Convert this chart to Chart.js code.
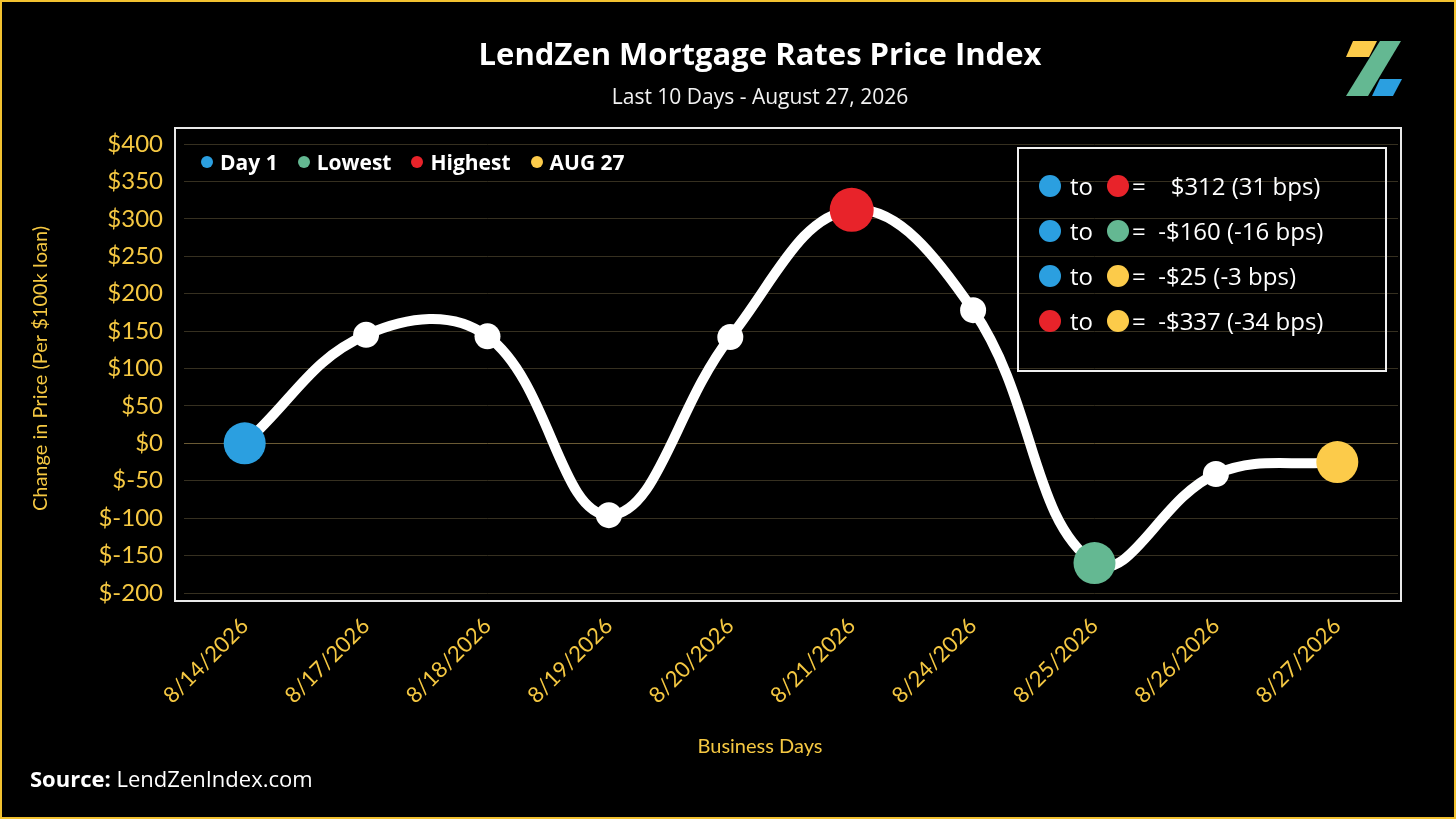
<!DOCTYPE html>
<html lang="en">
<head>
<meta charset="utf-8">
<title>LendZen Mortgage Rates Price Index</title>
<script src="https://cdn.jsdelivr.net/npm/chart.js@4.4.1/dist/chart.umd.min.js"></script>
<style>
    html, body {
        margin: 0;
        padding: 0;
        background: #000;
    }
    body {
        position: relative;
        width: 1456px;
        height: 819px;
        overflow: hidden;
        font-family: 'Open Sans', 'Lato', sans-serif;
        color: #fff;
    }
    #chartWrap {
        position: absolute;
        left: 0;
        top: 0;
        width: 1456px;
        height: 819px;
    }
    .frame {
        position: absolute;
        inset: 0;
        border: 2px solid #f2c230;
        pointer-events: none;
    }
    .title {
        position: absolute;
        left: 260px;
        width: 1000px;
        top: 32px;
        text-align: center;
        font-weight: 700;
        font-size: 31px;
    }
    .subtitle {
        position: absolute;
        left: 260px;
        width: 1000px;
        top: 82px;
        text-align: center;
        font-size: 21px;
        color: #f2f2f2;
    }
    .legend {
        position: absolute;
        left: 201px;
        top: 148px;
        display: flex;
        align-items: center;
        font-weight: 700;
        font-size: 21px;
    }
    .legend .item {
        display: flex;
        align-items: center;
        margin-right: 20px;
    }
    .legend .dot {
        width: 12px;
        height: 12px;
        border-radius: 50%;
        margin-right: 7px;
    }
    .diff-box {
        position: absolute;
        left: 1017px;
        top: 147px;
        width: 366px;
        height: 207px;
        border: 2px solid #f0f0f0;
        padding-top: 14px;
        box-sizing: content-box;
        font-size: 24px;
    }
    .diff-row {
        display: flex;
        align-items: center;
        height: 45px;
        padding-left: 20px;
        white-space: pre;
    }
    .diff-row .dot {
        width: 22px;
        height: 22px;
        border-radius: 50%;
    }
    .diff-row .to {
        margin: 0 14px 0 9px;
    }
    .diff-row .eq {
        margin-left: 3px;
    }
    .x-title {
        position: absolute;
        left: 560px;
        width: 400px;
        top: 733px;
        text-align: center;
        font-family: 'Lato', sans-serif;
        font-size: 20px;
        color: #f5c842;
    }
    .source {
        position: absolute;
        left: 30px;
        top: 763px;
        font-size: 22px;
    }
    .source b {
        font-weight: 700;
    }
    .logo {
        position: absolute;
        left: 0;
        top: 0;
    }
</style>
</head>
<body>
<div id="chartWrap"><canvas id="priceChart"></canvas></div>

<div class="title">LendZen Mortgage Rates Price Index</div>
<div class="subtitle">Last 10 Days - August 27, 2026</div>

<div class="legend" id="legend"></div>
<div class="diff-box" id="diffBox"></div>

<div class="x-title">Business Days</div>
<div class="source"><b>Source:</b> LendZenIndex.com</div>

<svg class="logo" width="1456" height="120">
    <polygon points="1353,41 1377,41 1369,57 1346,57" fill="#fccb4a"/>
    <polygon points="1380,41 1401,41 1368,96 1346,96" fill="#64b892"/>
    <polygon points="1380,79 1402,79 1393,96 1372,96" fill="#2b9fe0"/>
</svg>

<div class="frame"></div>

<script>
// Chart data
const dateLabels = ['8/14/2026', '8/17/2026', '8/18/2026', '8/19/2026', '8/20/2026',
    '8/21/2026', '8/24/2026', '8/25/2026', '8/26/2026', '8/27/2026'];
const priceChange = [0, 145, 143, -96, 142, 312, 178, -160, -41, -25];
const yTickValues = [-200, -150, -100, -50, 0, 50, 100, 150, 200, 250, 300, 350, 400];

// Marker colours
const COLORS = {
    day1: '#2b9fe0',
    lowest: '#64b892',
    highest: '#e8232a',
    latest: '#fccb4a',
    line: '#ffffff',
    tick: '#f5c842'
};

const legendItems = [
    { label: 'Day 1', color: COLORS.day1 },
    { label: 'Lowest', color: COLORS.lowest },
    { label: 'Highest', color: COLORS.highest },
    { label: 'AUG 27', color: COLORS.latest }
];

// Key points of the series
const firstIdx = 0;
const lastIdx = priceChange.length - 1;
const lowIdx = priceChange.indexOf(Math.min(...priceChange));
const highIdx = priceChange.indexOf(Math.max(...priceChange));

/**
 * Dollar amount like $312 / -$160
 */
function formatDollar(v) {
    return (v < 0 ? '-' : '') + '$' + Math.abs(v);
}

/**
 * Basis points per $100k loan ($10 = 1 bp)
 */
function formatBps(v) {
    const bps = Math.sign(v) * Math.round(Math.abs(v) / 10);
    return `(${bps} bps)`;
}

/**
 * Per-point colours and sizes
 */
function pointStyle() {
    const colors = priceChange.map(() => COLORS.line);
    const radius = priceChange.map(() => 13);
    [[firstIdx, COLORS.day1], [lowIdx, COLORS.lowest], [highIdx, COLORS.highest], [lastIdx, COLORS.latest]]
        .forEach(([i, c]) => {
            colors[i] = c;
            radius[i] = 21;
        });
    radius[highIdx] = 22;
    return { colors, radius };
}

/**
 * Top-left legend
 */
function buildLegend() {
    document.getElementById('legend').innerHTML = legendItems.map(item => `
        <div class="item"><span class="dot" style="background:${item.color}"></span>${item.label}</div>
    `).join('');
}

/**
 * Difference box (top right)
 */
function buildDiffBox() {
    const rows = [
        [COLORS.day1, COLORS.highest, priceChange[highIdx] - priceChange[firstIdx]],
        [COLORS.day1, COLORS.lowest, priceChange[lowIdx] - priceChange[firstIdx]],
        [COLORS.day1, COLORS.latest, priceChange[lastIdx] - priceChange[firstIdx]],
        [COLORS.highest, COLORS.latest, priceChange[lastIdx] - priceChange[highIdx]]
    ];
    document.getElementById('diffBox').innerHTML = rows.map(([a, b, v]) => `
        <div class="diff-row"><span class="dot" style="background:${a}"></span><span class="to">to</span><span class="dot" style="background:${b}"></span><span class="eq">=  ${v < 0 ? '' : '  '}${formatDollar(v)} ${formatBps(v)}</span></div>
    `).join('');
}

// White frame around the plot area
const plotFrame = {
    id: 'plotFrame',
    beforeDatasetsDraw(chart) {
        const { ctx, chartArea } = chart;
        const { left, right, top, bottom } = chartArea;
        ctx.save();
        ctx.strokeStyle = '#e8e8e8';
        ctx.lineWidth = 2;
        ctx.strokeRect(left - 9, top - 16, right - left + 12, bottom - top + 24);
        ctx.restore();
    }
};

/**
 * Line chart
 */
function drawChart() {
    const ctx = document.getElementById('priceChart').getContext('2d');
    const { colors, radius } = pointStyle();

    new Chart(ctx, {
        type: 'line',
        data: {
            labels: dateLabels,
            datasets: [{
                data: priceChange,
                borderColor: COLORS.line,
                borderWidth: 10,
                tension: 0.4,
                pointBackgroundColor: colors,
                pointBorderWidth: 0,
                pointRadius: radius,
                pointHoverRadius: radius,
                clip: false
            }]
        },
        options: {
            responsive: true,
            maintainAspectRatio: false,
            animation: false,
            layout: {
                padding: { top: 144, right: 58, bottom: 59, left: 26 }
            },
            plugins: {
                legend: { display: false },
                tooltip: { enabled: false }
            },
            scales: {
                x: {
                    offset: true,
                    grid: { display: false },
                    border: { display: false },
                    ticks: {
                        color: COLORS.tick,
                        font: { family: 'Lato', size: 22 },
                        minRotation: 45,
                        maxRotation: 45,
                        padding: 12
                    },
                    afterFit(scale) {
                        scale.height = 167;
                    }
                },
                y: {
                    min: -200,
                    max: 400,
                    border: { display: false },
                    grid: {
                        drawTicks: false,
                        lineWidth: 1,
                        color: c => (c.tick && c.tick.value === 0) ? '#6a5a34' : '#363020'
                    },
                    afterBuildTicks(scale) {
                        scale.ticks = yTickValues.map(v => ({ value: v }));
                    },
                    ticks: {
                        color: COLORS.tick,
                        font: { family: 'Lato', size: 24 },
                        padding: 21,
                        callback: v => '$' + v
                    },
                    title: {
                        display: true,
                        text: 'Change in Price (Per $100k loan)',
                        color: COLORS.tick,
                        font: { family: 'Lato', size: 20 },
                        padding: { top: 3, bottom: 0 }
                    },
                    afterFit(scale) {
                        scale.width = 158;
                    }
                }
            }
        },
        plugins: [plotFrame]
    });
}

function init() {
    buildLegend();
    buildDiffBox();
    drawChart();
}

document.addEventListener('DOMContentLoaded', init);
</script>
</body>
</html>
